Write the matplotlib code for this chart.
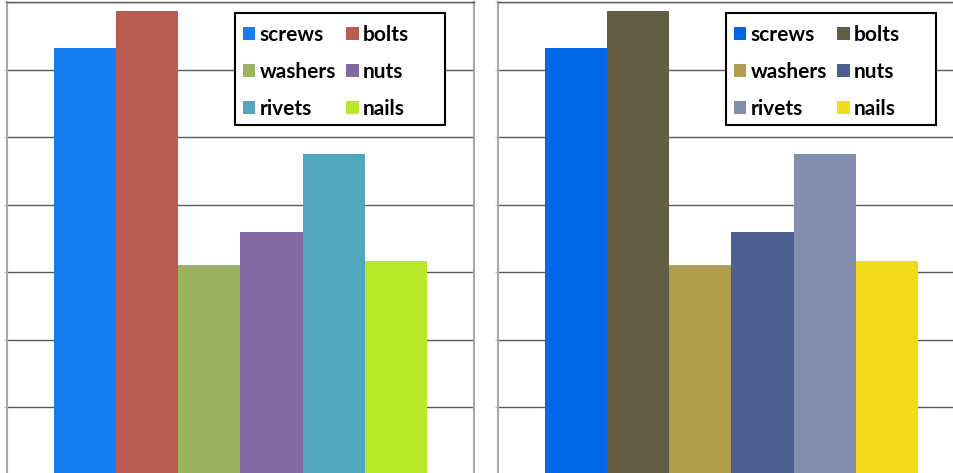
import matplotlib
matplotlib.use("Agg")
import matplotlib.pyplot as plt
from matplotlib.patches import Patch, Rectangle

# bar heights (grid units)
parts   = ["screws", "bolts", "washers", "nuts", "rivets", "nails"]
values  = [6.32, 6.86, 3.10, 3.59, 4.75, 3.16]

colors_left  = ["#167DF0", "#BA5C52", "#9BB260", "#826AA0", "#52A7BF", "#B8E82A"]
colors_right = ["#0066E8", "#635D45", "#AE9E4D", "#4D5F8E", "#848FB0", "#F2DA1C"]

FONT = "Lato"
FONT_SIZE = 15


def draw_panel(ax, colors):
    xs = list(range(len(parts)))
    ax.bar(xs, values, width=1.0, color=colors, zorder=2)
    ax.set_xlim(-1.25, 6.25)
    ax.set_ylim(0, 7)
    ax.set_yticks(range(0, 8))
    ax.set_yticklabels([])
    ax.set_xticks([])
    ax.tick_params(axis="y", length=2, color="#c8c8c8", width=0.8)
    ax.grid(axis="y", color="#5a5a5a", linewidth=1.0)
    ax.set_axisbelow(True)
    for side in ["left", "right"]:
        ax.spines[side].set_color("#a8a8a8")
        ax.spines[side].set_linewidth(1.5)
    ax.spines["top"].set_color("#5a5a5a")
    ax.spines["top"].set_linewidth(1.0)
    ax.spines["bottom"].set_visible(False)

    # legend box (drawn separately so its size is fixed)
    box = Rectangle((0.488, 0.740), 0.450, 0.237, transform=ax.transAxes,
                    facecolor="white", edgecolor="black", linewidth=1.5,
                    zorder=4)
    ax.add_patch(box)

    # legend fills column-wise, so reorder to get row-wise pairs
    order = [0, 2, 4, 1, 3, 5]
    handles = [Patch(facecolor=colors[i], edgecolor="none") for i in order]
    labels = [parts[i] for i in order]
    leg = ax.legend(handles, labels, ncol=2, loc="upper left",
                    bbox_to_anchor=(0.5054, 0.952), borderaxespad=0,
                    borderpad=0, frameon=False,
                    handlelength=0.58, handleheight=0.58,
                    handletextpad=0.22, columnspacing=0.5, labelspacing=0.83,
                    prop={"family": FONT, "weight": "bold", "size": FONT_SIZE})
    leg.set_zorder(5)


def main():
    fig = plt.figure(figsize=(9.54, 4.73), dpi=100)
    W, H = 954.0, 473.0
    bottom = (H - 474.5) / H
    height = 472.5 / H
    ax1 = fig.add_axes([7 / W, bottom, 467 / W, height])
    ax2 = fig.add_axes([498 / W, bottom, 467 / W, height])
    draw_panel(ax1, colors_left)
    draw_panel(ax2, colors_right)
    fig.savefig("out.png", dpi=100)
    plt.close("all")


if __name__ == "__main__":
    main()
